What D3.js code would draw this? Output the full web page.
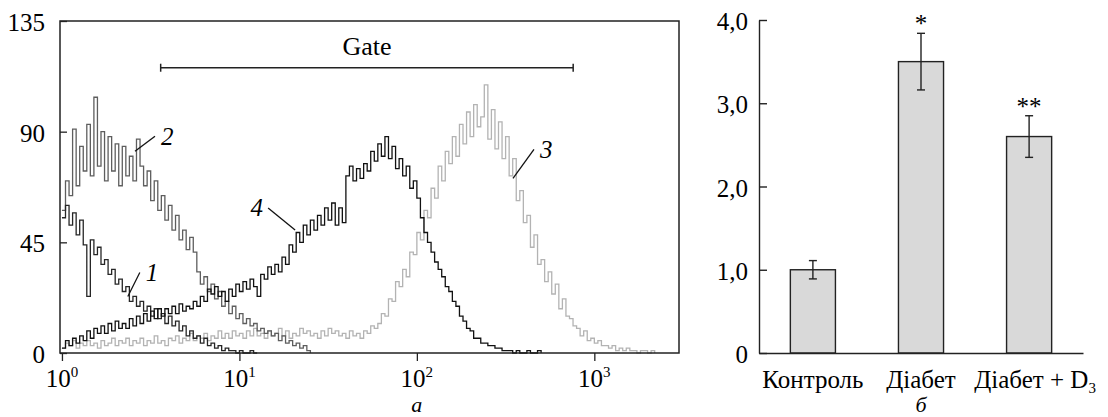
<!DOCTYPE html>
<html>
<head>
<meta charset="utf-8">
<script src="https://cdn.jsdelivr.net/npm/d3@7"></script>
<style>body { margin: 0; background: #fff; }</style>
</head>
<body>
<svg class="svg-chart" width="1108" height="417"></svg>
<script>
// ---- data: histogram (a) ----
// counts per channel, channels are 0.02-decade bins starting at 10^0
var curve1 = [55,60,52,57,48,54,44,23,46,40,43,36,38,32,34,28,30,25,27,21,23,19,21,17,19,15,18,14,16,12,
  15,11,13,9,11,7,9,6,7,4,6,3,4,2,3,1,2,1,1,0,1,0,0,1,0,0];
var curve2 = [58,70,64,91,68,84,74,93,72,104,76,90,70,88,74,85,68,84,72,80,70,87,76,68,74,62,70,58,64,54,
  60,50,56,46,50,42,47,41,33,28,31,25,28,22,25,19,21,16,19,14,16,12,14,11,12,9,10,8,9,7,
  8,5,7,4,5,3,4,2,3,1,0];
var curve3 = [2,4,3,5,2,4,3,5,3,4,2,
  5,3,4,6,3,5,4,6,3,5,4,6,3,5,4,7,4,5,3,6,
  5,7,4,6,5,8,5,7,6,8,5,7,6,9,6,
  8,6,9,7,8,6,9,7,10,7,8,6,9,7,8,10,7,9,6,8,7,10,8,9,7,8,6,9,7,10,8,9,7,8,6,
  9,7,8,6,9,
  8,11,10,12,16,15,22,21,29,27,34,31,41,40,49,46,58,55,67,63,76,70,82,77,88,80,93,85,98,88,
  101,92,96,109,87,99,83,94,79,88,72,79,62,66,53,56,43,48,36,38,29,33,24,28,18,22,15,14,11,10,
  7,9,5,6,4,5,3,3,2,3,1,2,1,2,1,1,0,1,1,0,1,0];
var curve4 = [2,5,3,6,4,7,5,9,6,10,8,11,8,12,9,13,10,12,10,14,11,15,12,16,13,17,14,18,15,18,
  16,19,16,20,17,19,18,21,19,23,21,26,24,27,23,25,21,26,23,28,25,29,26,30,27,23,32,30,35,32,
  36,33,39,36,44,41,49,45,52,48,54,50,56,52,59,54,61,52,59,53,72,76,70,75,71,77,74,82,78,85,
  80,88,79,84,75,79,72,76,67,70,63,55,49,45,41,37,34,31,27,25,21,19,15,13,10,9,6,6,4,4,
  3,3,2,2,1,1,1,0,1,0,0,1,0,0,1,0];

var xTicks = [1, 10, 100, 1000];
var yTicks = [0, 45, 90, 135];
var gate = [3.6, 760];
var gateLevel = 116;
// label anchors on the curves: [fluorescence, count]
var curveLabels = [
  {name: "1", at: [2.35, 23], dx: 12, dy: -24, side: "right"},
  {name: "2", at: [2.58, 82], dx: 20, dy: -15, side: "right"},
  {name: "3", at: [348, 71], dx: 21, dy: -29, side: "right"},
  {name: "4", at: [20.6, 50], dx: -27, dy: -22, side: "left"}
];

// ---- data: bar chart (б) ----
var groups = ["Контроль", "Діабет", "Діабет + D3"];
var means = [1.0, 3.5, 2.6];
var errors = [0.11, 0.34, 0.25];
var marks = ["", "*", "**"];
var barTicks = [0, 1, 2, 3, 4];

var serif = "'Liberation Serif'";
var svg = d3.select(".svg-chart");

// anchor and position first, then size and face, text last
function addText(parent, anchor, px, py, size, italic) {
  var t = parent.append("text")
    .attr("text-anchor", anchor)
    .attr("x", px)
    .attr("y", py)
    .style("font-size", size + "px");
  if (italic) t.style("font-style", "italic");
  return t.style("font-family", serif);
}

// d3 axes put a sans-serif font on their group; drop it
function plainAxis(g) {
  g.attr("font-family", null).attr("font-size", null);
  g.selectAll("text").remove();
  return g;
}

// ---------- left: histogram ----------
var x = d3.scaleLog().domain([0.975, 3000]).range([60, 679]);
var y = d3.scaleLinear().domain([0, 135]).range([353, 21]);

var channels = d3.range(0, 175).map(function(i) { return Math.pow(10, i * 0.02); });

var hist = svg.append("g");

var line = d3.line()
  .x(function(d, i) { return x(channels[i]); })
  .y(function(d) { return y(d); })
  .curve(d3.curveStepAfter);

var series = [
  {data: curve3, color: "#b3b3b3"},
  {data: curve2, color: "#5e5e5e"},
  {data: curve1, color: "#262626"},
  {data: curve4, color: "#111"}
];

series.forEach(function(s) {
  hist.append("path")
    .datum(s.data)
    .attr("d", line)
    .style("fill", "none")
    .style("stroke", s.color)
    .style("stroke-width", 1.3);
});

// frame
hist.append("rect")
  .attr("x", x.range()[0])
  .attr("y", y.range()[1])
  .attr("width", x.range()[1] - x.range()[0])
  .attr("height", y.range()[0] - y.range()[1])
  .style("fill", "none")
  .style("stroke", "#222")
  .style("stroke-width", 1.5);

// x axis ticks
var xAxis = hist.append("g")
  .attr("transform", "translate(0," + y(0) + ")")
  .call(d3.axisBottom(x).tickValues(xTicks).tickSize(8).tickFormat(""));
plainAxis(xAxis);
xAxis.select(".domain").remove();
xAxis.selectAll("line").style("stroke", "#222").style("stroke-width", 1.3);

// y axis ticks (inside)
var yAxis = hist.append("g")
  .attr("transform", "translate(" + x.range()[0] + ",0)")
  .call(d3.axisLeft(y).tickValues(yTicks).tickSizeInner(-7).tickSizeOuter(0).tickFormat(""));
plainAxis(yAxis);
yAxis.select(".domain").remove();
yAxis.selectAll("line").style("stroke", "#222").style("stroke-width", 1.3);

// gate
var gy = y(gateLevel);
hist.append("line")
  .attr("x1", x(gate[0])).attr("x2", x(gate[1]))
  .attr("y1", gy).attr("y2", gy)
  .style("stroke", "#222").style("stroke-width", 1.5);
gate.forEach(function(g) {
  hist.append("line")
    .attr("x1", x(g)).attr("x2", x(g))
    .attr("y1", gy - 4).attr("y2", gy + 4)
    .style("stroke", "#222").style("stroke-width", 1.5);
});

// leader lines of the curve labels
curveLabels.forEach(function(l) {
  var ax = x(l.at[0]), ay = y(l.at[1]);
  hist.append("line")
    .attr("x1", ax).attr("y1", ay)
    .attr("x2", ax + l.dx).attr("y2", ay + l.dy)
    .style("stroke", "#111").style("stroke-width", 1.3);
});

// ---------- right: bar chart ----------
var xb = d3.scaleBand()
  .domain(groups)
  .range([759, 1083])
  .paddingInner(0.583)
  .paddingOuter(0.29);
var yb = d3.scaleLinear().domain([0, 4]).range([353, 20]);

var bars = svg.append("g");

bars.selectAll(".bar")
  .data(means)
  .enter().append("rect")
  .attr("class", "bar")
  .attr("x", function(d, i) { return xb(groups[i]); })
  .attr("y", function(d) { return yb(d); })
  .attr("width", xb.bandwidth())
  .attr("height", function(d) { return yb(0) - yb(d); })
  .style("fill", "#d9d9d9")
  .style("stroke", "#222")
  .style("stroke-width", 1.4);

// error bars
means.forEach(function(m, i) {
  var cx = xb(groups[i]) + xb.bandwidth() / 2;
  var top = yb(m + errors[i]), bot = yb(m - errors[i]);
  bars.append("line")
    .attr("x1", cx).attr("x2", cx).attr("y1", top).attr("y2", bot)
    .style("stroke", "#222").style("stroke-width", 1.4);
  [top, bot].forEach(function(v) {
    bars.append("line")
      .attr("x1", cx - 4).attr("x2", cx + 4).attr("y1", v).attr("y2", v)
      .style("stroke", "#222").style("stroke-width", 1.4);
  });
});

var yAxisB = bars.append("g")
  .attr("transform", "translate(759,0)")
  .call(d3.axisLeft(yb).tickValues(barTicks).tickFormat("")
    .tickSizeInner(-8).tickSizeOuter(0));
plainAxis(yAxisB);
yAxisB.selectAll("line, path").style("stroke", "#222").style("stroke-width", 1.4);

var xAxisB = bars.append("g")
  .attr("transform", "translate(0," + yb(0) + ")")
  .call(d3.axisBottom(xb).tickValues([]).tickSizeOuter(0));
plainAxis(xAxisB);
xAxisB.select(".domain").style("stroke", "#222").style("stroke-width", 1.4);

// ---------- all texts, in a layer of their own ----------
var labels = svg.append("g");

xTicks.forEach(function(d) {
  var t = addText(labels, "middle", x(d), y(0) + 34, 25, false);
  t.append("tspan").text("10");
  t.append("tspan")
    .attr("dy", -10)
    .style("font-size", "15px")
    .text(Math.round(Math.log10(d)));
});

yTicks.forEach(function(d) {
  addText(labels, "end", x.range()[0] - 15, y(d) + 10, 25, false).text(d);
});

addText(labels, "middle", (x(gate[0]) + x(gate[1])) / 2, gy - 13, 26, false).text("Gate");

curveLabels.forEach(function(l) {
  var ex = x(l.at[0]) + l.dx, ey = y(l.at[1]) + l.dy;
  if (l.side == "right") {
    addText(labels, "start", ex + 6, ey + 9, 25, true).text(l.name);
  } else {
    addText(labels, "end", ex - 5, ey + 8, 25, true).text(l.name);
  }
});

addText(labels, "middle", x(100), 412, 22, true).text("а");

means.forEach(function(m, i) {
  if (marks[i]) {
    addText(labels, "middle", xb(groups[i]) + xb.bandwidth() / 2, yb(m + errors[i]) - 1, 25, false)
      .text(marks[i]);
  }
});

barTicks.forEach(function(d) {
  addText(labels, "end", 748, yb(d) + 10, 25, false)
    .text(d === 0 ? "0" : d.toFixed(1).replace(".", ","));
});

groups.forEach(function(g, i) {
  var cx = xb(g) + xb.bandwidth() / 2;
  if (i == 2) {
    var t = addText(labels, "middle", cx + 6, 388, 25, false);
    t.append("tspan").text("Діабет + D");
    t.append("tspan").attr("dy", 5).style("font-size", "15px").text("3");
  } else {
    addText(labels, "middle", cx, 388, 25, false).text(g);
  }
});

addText(labels, "middle", xb(groups[1]) + xb.bandwidth() / 2, 412, 22, true).text("б");
</script>
</body>
</html>
